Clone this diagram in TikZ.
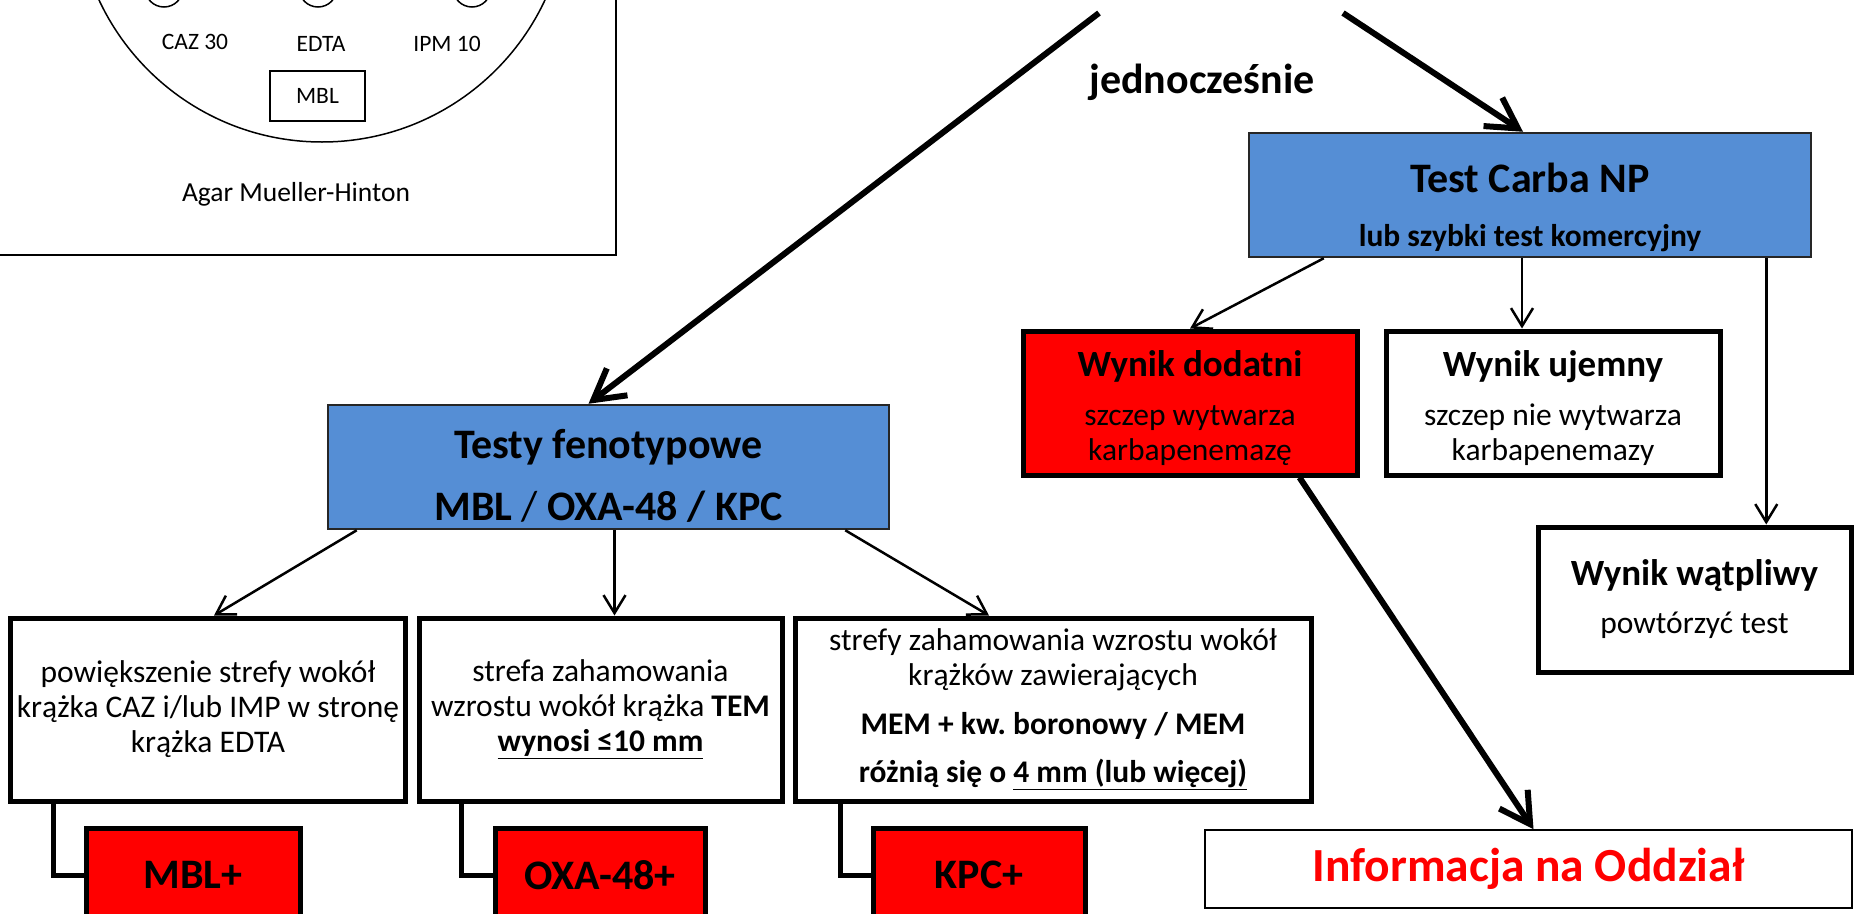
\documentclass[tikz,border=0pt]{standalone}
\usepackage{fontspec}
\setmainfont{Carlito}
\usetikzlibrary{calc}
\usetikzlibrary{arrows.meta}

\definecolor{testblue}{RGB}{85,142,213}
\newcommand{\regfont}{\fontsize{31.5}{35}\selectfont}
\newcommand{\bigfont}{\fontsize{42}{48}\selectfont}
\newcommand{\midfont}{\fontsize{37}{42}\selectfont}

\begin{document}
\begin{tikzpicture}[x=1pt, y=-1pt,
    bluebox/.style={draw=black!85, line width=2.5pt, fill=testblue, align=center, inner sep=0pt},
    redbox/.style={draw=black, line width=5pt, fill=red, align=center, inner sep=0pt},
    whitebox/.style={draw=black, line width=5pt, fill=white, align=center, inner sep=0pt},
    thinarrow/.style={->, >={Straight Barb[length=18pt, width=22pt]}, line width=2.5pt},
    thickarrow/.style={->, >={Straight Barb[length=30pt, width=34pt]}, line width=6pt},
    elbow/.style={line width=5pt},
    platetext/.style={font=\fontsize{23.5}{28}\selectfont}]
    \clip (0,0) rectangle (1855,913);

    % plate
    \draw[line width=1.5pt] (-10,-10) rectangle (616,255);
    \draw[line width=1.5pt] (322,-104) circle[radius=246pt];
    \foreach \x in {164,318,472}
        \draw[line width=1.5pt] (\x,-12) circle[radius=19pt];
    \node (caz) at (195,42) [platetext] {CAZ 30};
    \node (edta) at (321,44) [platetext] {EDTA};
    \node (ipm) at (447,44) [platetext] {IPM 10};
    \node (mblplate) at (317.5,96) [draw, line width=1.5pt, minimum width=95pt, minimum height=50pt, platetext] {MBL};
    \node (agar) at (296,194) [font=\fontsize{27.5}{32}\selectfont] {Agar Mueller-Hinton};

    \coordinate (startL) at (1099,13);
    \coordinate (startR) at (1343,13);
    \node (jedno) at (1202,82) [font=\bigfont\bfseries] {jednocześnie};

    % boxes
    \node (carba) at (1530,195) [bluebox, minimum width=562pt, minimum height=124pt, font=\bigfont\bfseries]
        {\rule{0pt}{54pt}Test Carba NP\\[6pt] {\fontsize{31.5}{35}\selectfont lub szybki test komercyjny}};
    \node (dodatni) at (1190,403) [redbox, minimum width=334pt, minimum height=144pt, font=\regfont]
        {{\midfont\bfseries\rule{0pt}{36pt}Wynik dodatni}\\[14pt] szczep wytwarza\\ karbapenemazę};
    \node (ujemny) at (1553,403) [whitebox, minimum width=334pt, minimum height=144pt, font=\regfont]
        {{\midfont\bfseries\rule{0pt}{36pt}Wynik ujemny}\\[14pt] szczep nie wytwarza\\ karbapenemazy};
    \node (watpliwy) at (1694.5,599.5) [whitebox, minimum width=313pt, minimum height=145pt, font=\regfont]
        {{\midfont\bfseries Wynik wątpliwy}\\[13pt] powtórzyć test};
    \node (info) at (1528.5,869) [draw, line width=1.5pt, fill=white, minimum width=647pt, minimum height=78pt,
        font=\fontsize{47.5}{54}\selectfont\bfseries, text=red] {Informacja na Oddział};

    \node (testy) at (608.5,467) [bluebox, minimum width=561pt, minimum height=124pt, font=\bigfont\bfseries]
        {\rule{0pt}{46pt}Testy fenotypowe\\[14pt] MBL {\mdseries /} OXA-48 / KPC};
    \node (mbltxt) at (208,709.5) [whitebox, minimum width=394.5pt, minimum height=183pt, font=\regfont]
        {powiększenie strefy wokół\\ krążka CAZ i/lub IMP w stronę\\ krążka EDTA};
    \node (oxatxt) at (600.5,709.5) [whitebox, minimum width=363pt, minimum height=183pt, font=\regfont]
        {strefa zahamowania\\ wzrostu wokół krążka \textbf{TEM}\\ \textbf{\underline{wynosi ≤10 mm}}};
    \node (kpctxt) at (1053,709.5) [whitebox, minimum width=516pt, minimum height=183pt, font=\regfont]
        {strefy zahamowania wzrostu wokół\\ krążków zawierających\\[14pt]
         \textbf{MEM + kw.\ boronowy / MEM}\\[13pt] \textbf{różnią się o \underline{4 mm (lub więcej)}}};
    \node (mblplus) at (193,875) [redbox, minimum width=214pt, minimum height=94pt, font=\bigfont\bfseries] {MBL+};
    \node (oxaplus) at (600,875) [redbox, minimum width=210pt, minimum height=94pt, font=\bigfont\bfseries] {OXA-48+};
    \node (kpcplus) at (979,875) [redbox, minimum width=212pt, minimum height=94pt, font=\bigfont\bfseries] {KPC+};

    % arrows
    \draw [thickarrow] (startL) -- ([xshift=-20pt]testy.north);
    \draw [thickarrow] (startR) -- ([xshift=-7pt]carba.north);
    \draw [thinarrow] ([xshift=76pt]carba.south west) -- (dodatni.north);
    \draw [thinarrow] ([xshift=-8pt]carba.south) -- ([xshift=-8pt]carba.south |- ujemny.north);
    \draw [thinarrow] ([xshift=-46pt]carba.south east) -- ([xshift=-46pt]carba.south east |- watpliwy.north);
    \draw [thickarrow] ([xshift=-60pt]dodatni.south east) -- ([xshift=5pt]info.north);

    \draw [thinarrow] ([xshift=30pt]testy.south west) -- ([xshift=6pt]mbltxt.north);
    \draw [thinarrow] ([xshift=6pt]testy.south) -- ([xshift=6pt]testy.south |- oxatxt.north);
    \draw [thinarrow] ([xshift=-45pt]testy.south east) -- ([xshift=-64pt]kpctxt.north);

    \draw [elbow] ([xshift=45pt]mbltxt.south west) |- (mblplus.west);
    \draw [elbow] ([xshift=45pt]oxatxt.south west) |- (oxaplus.west);
    \draw [elbow] ([xshift=48pt]kpctxt.south west) |- (kpcplus.west);

\end{tikzpicture}
\end{document}
